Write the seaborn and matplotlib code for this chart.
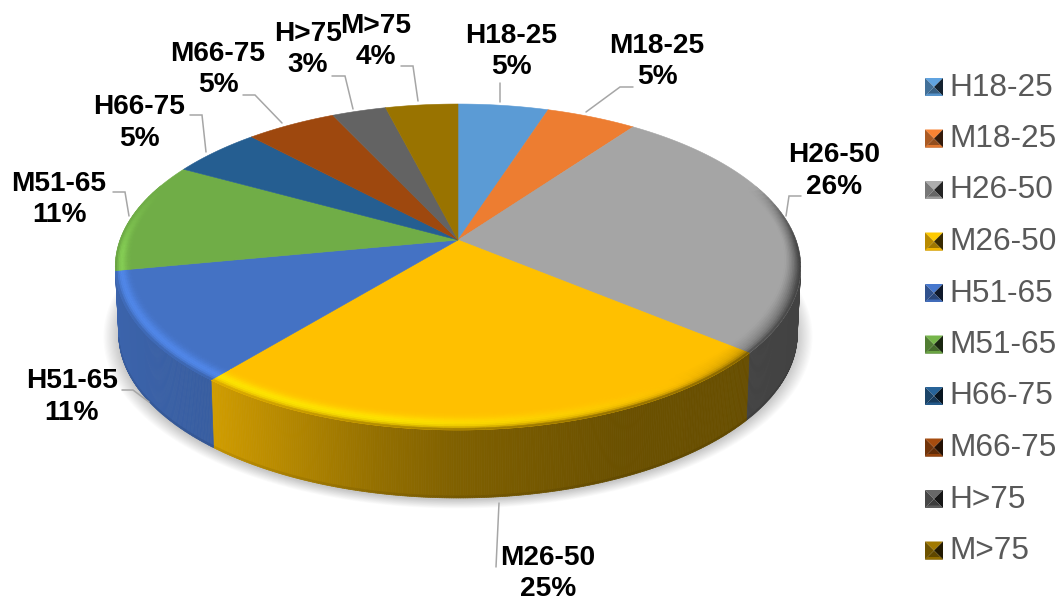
import numpy as np
import matplotlib
matplotlib.use("Agg")
import matplotlib.pyplot as plt
from matplotlib.collections import PolyCollection
from matplotlib.colors import to_rgb
import seaborn as sns

# Survey shares by sex and age band
groups = ["H18-25", "M18-25", "H26-50", "M26-50", "H51-65",
          "M51-65", "H66-75", "M66-75", "H>75", "M>75"]
shares = [5, 5, 26, 25, 11, 11, 5, 5, 3, 4]
palette = ["#5B9BD5", "#ED7D31", "#A5A5A5", "#FFC000", "#4472C4",
           "#70AD47", "#255E91", "#9E480E", "#636363", "#997300"]

# Label centres (first line) and leader-line vertices, in pixels
label_xy = [(511, 36), (657, 46), (834, 155), (548, 558), (72, 381),
            (59, 184), (139, 107), (218, 54), (308, 34), (376, 26)]
leaders = [[(500, 83), (500, 102)],
           [(633, 87), (620, 87), (586, 112)],
           [(801, 196), (789, 196), (786, 216)],
           [(499, 503), (496, 567)],
           [(122, 390), (133, 390), (149, 402)],
           [(113, 192), (125, 192), (129, 216)],
           [(190, 115), (202, 115), (206, 152)],
           [(243, 95), (255, 95), (282, 123)],
           [(332, 76), (345, 76), (353, 109)],
           [(401, 66), (413, 66), (418, 101)]]

sns.set_theme(style="white")
plt.rcParams["font.family"] = ["Liberation Sans", "DejaVu Sans"]

fig, ax = plt.subplots(figsize=(10.61, 6.01), dpi=100)
ax.set_position([0, 0, 1, 1])
ax.set_xlim(0, 1061)
ax.set_ylim(601, 0)
ax.axis("off")

# Perspective projection of the disc seen from above and in front
CX, CY, RX, RY, K = 458.0, 240.0, 338.0, 158.5, 0.1656
DEPTH, WALL_SCALE = 68.0, 0.99


def top_point(theta, r=1.0):
    u, v = r * np.sin(theta), -r * np.cos(theta)
    d = 1 - K * v
    return CX + RX * u / d, CY + RY * v / d


def bottom_point(theta, r=1.0):
    x, y = top_point(theta, r)
    return CX + (x - CX) * WALL_SCALE, y + DEPTH - 1.5 * (1 - abs(np.cos(theta)))


def blend(p, q, f):
    return p[0] + (q[0] - p[0]) * f, p[1] + (q[1] - p[1]) * f


edges = np.radians(np.concatenate([[0], np.cumsum(shares)]) * 3.6)
colors = [np.array(to_rgb(c)) for c in palette]

# Soft contact shadow under the disc
circle = np.radians(np.arange(0, 360, 1.0))
for grow in np.linspace(1.045, 1.0, 14):
    bx, by = bottom_point(circle)
    sx = CX + (bx - CX) * grow
    sy = (CY + DEPTH) + (by - CY - DEPTH) * grow + 2
    ax.fill(sx, sy, color="black", alpha=0.016, lw=0, zorder=1)


def wall_shade(base, theta):
    factor = np.interp(np.sin(theta), [-1, -0.64, -0.45, -0.2, 0, 0.4, 1],
                       [0.88, 0.82, 0.72, 0.58, 0.5, 0.42, 0.4])
    return np.clip(base * factor, 0, 1)


# Outer wall, shaded from left to right, with a slightly darker foot
polys, faces = [], []
for i, base in enumerate(colors):
    steps = max(int(np.degrees(edges[i + 1] - edges[i]) * 3), 2)
    th = np.linspace(edges[i], edges[i + 1], steps + 1)
    for a, b in zip(th[:-1], th[1:]):
        mid = (a + b) / 2
        if -np.cos(mid) < 0.2:
            continue
        ta, tb = top_point(a), top_point(b)
        ba, bb = bottom_point(a), bottom_point(b)
        for f0, f1, dim in [(0, 0.97, 1.0), (0.97, 1, 0.92)]:
            polys.append([blend(ta, ba, f0), blend(tb, bb, f0),
                          blend(tb, bb, f1), blend(ta, ba, f1)])
            faces.append(wall_shade(base, mid) * dim)
ax.add_collection(PolyCollection(polys, facecolors=faces, edgecolors="face",
                                 linewidths=0.5, zorder=2))

# Flat top face of each slice
for i, base in enumerate(colors):
    th = np.linspace(edges[i], edges[i + 1], 200)
    x, y = top_point(th)
    ax.fill(np.r_[CX, x], np.r_[CY, y], color=base, lw=0.4, zorder=3)


def rim_start(theta):
    # The bevel looks wider at the front than at the sides
    return 1 - (0.04 + 0.035 * max(-np.cos(theta), 0))


# Bevelled rim: lit towards the lower left, dark towards the right
ring_steps = np.linspace(0, 1, 11)
polys, faces = [], []
for i, base in enumerate(colors):
    steps = max(int(np.degrees(edges[i + 1] - edges[i]) / 1.5), 2)
    th = np.linspace(edges[i], edges[i + 1], steps + 1)
    for a, b in zip(th[:-1], th[1:]):
        mid = (a + b) / 2
        weight = np.clip((-np.cos(mid) + 0.35) / 0.5, 0, 1)
        if weight == 0:
            continue
        light = np.cos(mid - np.radians(235)) * weight
        wall = wall_shade(base, mid)
        ra, rb = rim_start(a), rim_start(b)
        for s0, s1 in zip(ring_steps[:-1], ring_steps[1:]):
            t = (s0 + s1) / 2
            if light > 0:
                bump = np.exp(-((t - 0.66) / 0.36) ** 2)
                c = base + (np.clip(base * 1.2, 0, 1) - base) * min(light * 1.4, 1) * bump
            else:
                c = base + (wall - base) * min(-light * 1.6, 1) * t ** 1.3
            c = c + (wall - c) * weight * t ** 7
            polys.append([top_point(a, ra + (1 - ra) * s0), top_point(b, rb + (1 - rb) * s0),
                          top_point(b, rb + (1 - rb) * s1), top_point(a, ra + (1 - ra) * s1)])
            faces.append(np.clip(c, 0, 1))
ax.add_collection(PolyCollection(polys, facecolors=faces, edgecolors="face",
                                 linewidths=0.4, zorder=4))

# Leader lines and two-line bold data labels
for path in leaders:
    px, py = zip(*path)
    ax.plot(px, py, color="#A6A6A6", lw=1.1, solid_joinstyle="miter", zorder=5)

for name, value, (lx, ly) in zip(groups, shares, label_xy):
    ax.text(lx, ly, name, ha="center", va="center", fontsize=20.2,
            fontweight="bold", color="black", zorder=6)
    ax.text(lx, ly + 31.5, f"{value}%", ha="center", va="center", fontsize=20.2,
            fontweight="bold", color="black", zorder=6)

# Legend with pyramid-shaded swatches
SW_X0, SW_SIZE, LEG_Y0, LEG_DY = 925.0, 18.0, 87.0, 51.5
for i, (name, base) in enumerate(zip(groups, colors)):
    yc = LEG_Y0 + i * LEG_DY
    x0, x1, xm = SW_X0, SW_X0 + SW_SIZE, SW_X0 + SW_SIZE / 2
    y0, y1 = yc - SW_SIZE / 2, yc + SW_SIZE / 2
    ax.fill([x0, x1, xm], [y0, y0, yc], color=np.clip(base * 1.05, 0, 1), lw=0, zorder=5)
    ax.fill([x0, x0, xm], [y0, y1, yc], color=base * 0.72, lw=0, zorder=5)
    ax.fill([x1, x1, xm], [y0, y1, yc], color=base * 0.22, lw=0, zorder=5)
    ax.fill([x0, x1, xm], [y1, y1, yc], color=base * 0.62, lw=0, zorder=5)
    ax.fill([x0, x1, x1 - 2.5, x0 + 2.5], [y1, y1, y1 - 2.5, y1 - 2.5],
            color=np.clip(base * 0.95, 0, 1), lw=0, zorder=5)
    ax.text(949, yc + 0.5, name, ha="left", va="center", fontsize=22.8,
            color="#595959", zorder=6)

fig.savefig("out.png", dpi=100, facecolor="white")
